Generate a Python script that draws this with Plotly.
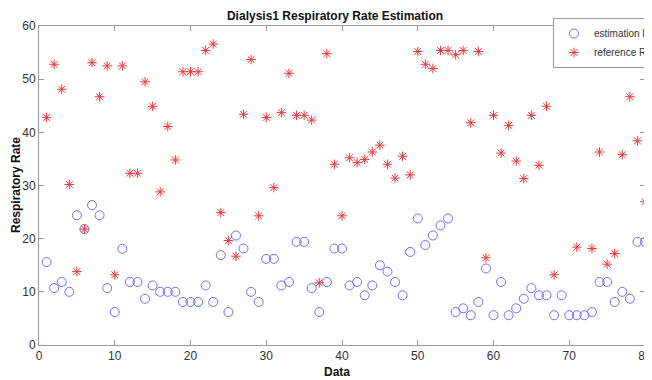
import plotly.graph_objects as go

x_data = list(range(1, 81))

estimation_rr = [15.6, 10.7, 11.85, 10.0, 24.4, 21.8, 26.3, 24.4, 10.7, 6.2,
                 18.1, 11.85, 11.85, 8.7, 11.2, 10.0, 10.0, 10.0, 8.1, 8.1,
                 8.1, 11.2, 8.1, 16.9, 6.2, 20.6, 18.15, 10.0, 8.1, 16.2,
                 16.2, 11.2, 11.85, 19.4, 19.4, 10.7, 6.2, 11.85, 18.15, 18.15,
                 11.2, 11.85, 9.35, 11.2, 15.0, 13.8, 11.85, 9.35, 17.5, 23.8,
                 18.8, 20.6, 22.5, 23.8, 6.2, 6.9, 5.6, 8.1, 14.4, 5.6,
                 11.85, 5.6, 6.9, 8.7, 10.7, 9.35, 9.35, 5.6, 9.35, 5.6,
                 5.6, 5.6, 6.2, 11.85, 11.85, 8.1, 10.0, 8.7, 19.4, 19.4]

reference_rr = [42.8, 52.8, 48.1, 30.2, 13.8, 21.8, 53.1, 46.7, 52.5, 13.2,
                52.5, 32.3, 32.3, 49.5, 44.9, 28.8, 41.1, 34.8, 51.4, 51.4,
                51.4, 55.4, 56.6, 24.9, 19.65, 16.7, 43.4, 53.7, 24.3, 42.8,
                29.6, 43.7, 51.1, 43.2, 43.2, 42.3, 11.7, 54.8, 34.0, 24.3,
                35.2, 34.3, 34.9, 36.3, 37.6, 34.0, 31.4, 35.5, 32.0, 55.2,
                52.8, 52.0, 55.4, 55.4, 54.6, 55.4, 41.8, 55.2, 16.4, 43.2,
                36.1, 41.3, 34.6, 31.3, 43.2, 33.8, 44.9, 13.2, 54.3, 53.7,
                18.4, 53.1, 18.15, 36.3, 15.2, 17.2, 35.8, 46.7, 38.4, 26.95]

x_ticks = [0, 10, 20, 30, 40, 50, 60, 70, 80]
y_ticks = [0, 10, 20, 30, 40, 50, 60]

font_family = "Liberation Sans, Arial, sans-serif"

fig = go.Figure()
fig.add_trace(go.Scatter(
    x=x_data, y=estimation_rr, mode="markers", name="estimation RR",
    marker=dict(symbol="circle-open", size=9, color="#6f6ff5",
                line=dict(width=1, color="#6f6ff5")),
))
fig.add_trace(go.Scatter(
    x=x_data, y=reference_rr, mode="markers", name="reference RR",
    marker=dict(symbol="asterisk-open", size=8, color="#e8383c",
                line=dict(width=1, color="#e8383c")),
))

axis_common = dict(
    showgrid=False, zeroline=False, showline=True, linecolor="#9a9a9a",
    linewidth=1, mirror="ticks", ticks="inside", ticklen=5,
    tickcolor="#9a9a9a", tickfont=dict(size=12, color="#333333", family=font_family),
)

# page body has an 8px margin: lay the figure out in window pixels minus 8
OFF = 8
W, H = 652 - OFF, 380 - OFF
L, T = 39 - OFF, 26 - OFF
R = 652 - 645
B = 380 - 345
pw, ph = W - L - R, H - T - B

def px_x(wx):
    return (wx - OFF - L) / pw

def px_y(wy):
    return 1 - (wy - OFF - T) / ph

fig.update_layout(
    width=W, height=H,
    margin=dict(l=L, r=R, t=T, b=B, autoexpand=False),
    paper_bgcolor="white", plot_bgcolor="white",
    font=dict(family=font_family, color="#222222"),
    title=dict(text="<b>Dialysis1 Respiratory Rate Estimation</b>",
               x=(335 - OFF) / W, xanchor="center", y=1 - (16 - OFF) / H,
               yanchor="middle",
               font=dict(size=12, color="#111111", family=font_family)),
    xaxis=dict(range=[0, 80], tickvals=x_ticks, **axis_common),
    yaxis=dict(range=[0, 60], tickvals=y_ticks, **axis_common),
    showlegend=True,
    legend=dict(x=px_x(553), y=px_y(18), xanchor="left", yanchor="top",
                bgcolor="white", bordercolor="#9a9a9a", borderwidth=1,
                font=dict(size=10, color="#333333", family=font_family),
                tracegroupgap=0),
    annotations=[
        dict(text="<b>Data</b>", xref="paper", yref="paper",
             x=px_x(337), y=px_y(372),
             xanchor="center", yanchor="middle", showarrow=False,
             font=dict(size=12, color="#111111", family=font_family)),
        dict(text="<b>Respiratory Rate</b>", xref="paper", yref="paper",
             x=px_x(16), y=px_y(185), textangle=-90,
             xanchor="center", yanchor="middle", showarrow=False,
             font=dict(size=12, color="#111111", family=font_family)),
    ],
)

fig.write_html("out.html")
